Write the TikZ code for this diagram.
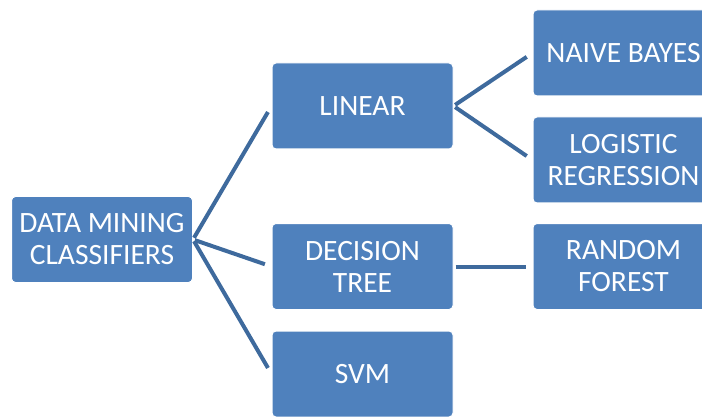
\documentclass[tikz,border=0pt]{standalone}
\usepackage{fontspec}
\setmainfont{Carlito}
\definecolor{boxblue}{HTML}{4F81BD}
\definecolor{lineblue}{HTML}{3E6A9D}
\tikzset{
  classbox/.style={rectangle, rounded corners=4pt, fill=boxblue, draw=white,
    line width=1pt, text=white, align=center, minimum width=181pt,
    minimum height=86pt, inner sep=0pt,
    font=\fontsize{29.5}{32}\selectfont},
  branch/.style={lineblue, line width=4pt, shorten <=2pt, shorten >=7pt}
}
\begin{document}
\begin{tikzpicture}[x=1pt,y=-1pt]
    \useasboundingbox (0,0) rectangle (702,417);

    % root
    \node[classbox] (root) at(102, 239.5){DATA MINING\\CLASSIFIERS};

    % middle column
    \node[classbox] (linear)   at(362.5, 106){LINEAR};
    \node[classbox] (dectree)  at(362.5, 266.5){DECISION\\TREE};
    \node[classbox] (svm)      at(362.5, 374){SVM};

    % right column
    \node[classbox] (bayes)    at(623.5, 53){NAIVE BAYES};
    \node[classbox] (logistic) at(623.5, 160){LOGISTIC\\REGRESSION};
    \node[classbox] (forest)   at(623.5, 266.5){RANDOM\\FOREST};

    % branches
    \draw[branch] (root.east) -- (linear.west);
    \draw[branch] (root.east) -- (dectree.west);
    \draw[branch] (root.east) -- (svm.west);
    \draw[branch] (linear.east) -- (bayes.west);
    \draw[branch] (linear.east) -- (logistic.west);
    \draw[branch] (dectree.east) -- (forest.west);
\end{tikzpicture}
\end{document}
